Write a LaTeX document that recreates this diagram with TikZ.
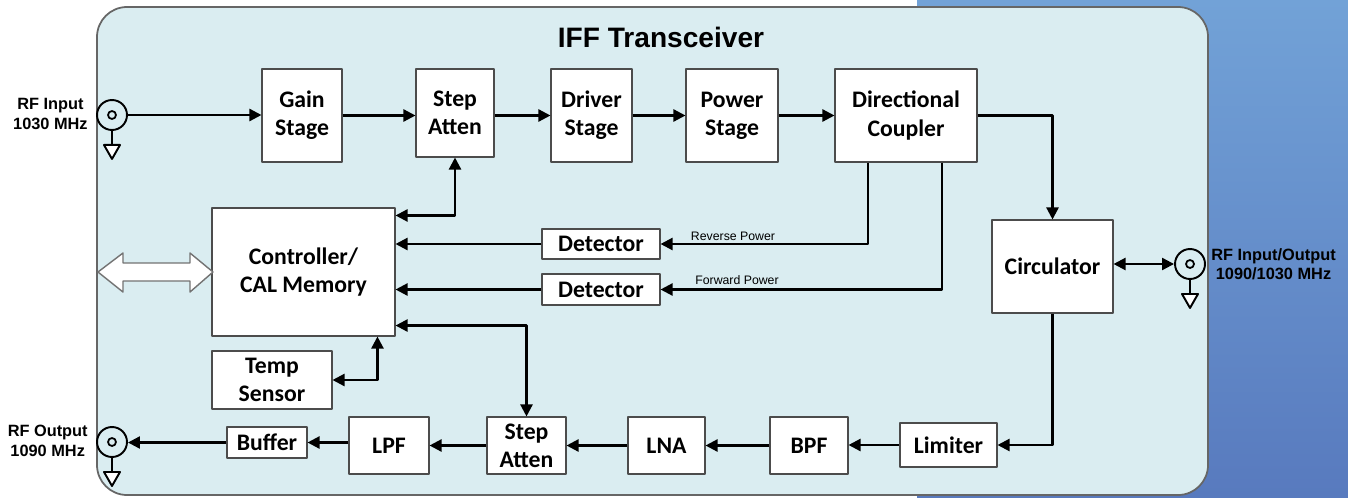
\documentclass[tikz,border=0pt]{standalone}
\usepackage{fontspec}
\setmainfont{Carlito}
\newfontfamily\arialfont{Liberation Sans}
\usetikzlibrary{arrows.meta,calc}
\definecolor{panelfill}{RGB}{218,237,241}
\definecolor{bluetop}{RGB}{114,162,215}
\definecolor{bluebot}{RGB}{88,122,190}
\begin{document}
\begin{tikzpicture}[x=0.02cm,y=-0.02cm,line join=round,>={Triangle[length=2.4mm,width=2.4mm]},
	blk/.style={draw=black!70,fill=white,line width=0.6pt,inner sep=0pt,align=center,font=\bfseries\fontsize{13.5}{16}\selectfont},
	sz/.style 2 args={minimum width=#1*0.02cm,minimum height=#2*0.02cm},
	wire/.style={line width=1.3pt},
	port/.style={circle,draw,line width=1.1pt,inner sep=0pt,minimum size=0.6cm,path picture={\draw[line width=1pt] (path picture bounding box.center) circle (0.08cm);}},
	lbl/.style={font=\arialfont\bfseries\fontsize{9.3}{11}\selectfont,align=center,inner sep=0pt},
	tag/.style={font=\arialfont\fontsize{7}{8}\selectfont,inner sep=0pt}]
	\useasboundingbox (0,0) rectangle (1348,497);
	% background and panel
	\shade[top color=bluetop,bottom color=bluebot] (917,0) rectangle (1348,497);
	\draw[draw=black!60,line width=1pt,fill=panelfill,rounded corners=0.6cm] (97,7) rectangle (1208,495);
	\node[font=\arialfont\bfseries\fontsize{16}{18}\selectfont] (title) at (661,37) {IFF Transceiver};
	% blocks
	\node[blk,sz={80}{93}] (gain) at (302,115.5) {Gain\\Stage};
	\node[blk,sz={78}{88}] (att1) at (455,113) {Step\\Atten};
	\node[blk,sz={81}{93}] (drv) at (591.5,115.5) {Driver\\Stage};
	\node[blk,sz={92}{93}] (pwr) at (732,115.5) {Power\\Stage};
	\node[blk,sz={142}{93}] (cpl) at (906,115.5) {Directional\\Coupler};
	\node[blk,sz={121}{93}] (circ) at (1052.5,266.5) {Circulator};
	\node[blk,sz={183}{128}] (ctrl) at (303.5,272) {Controller/\\CAL Memory};
	\node[blk,sz={118}{30}] (det1) at (601,244) {Detector};
	\node[blk,sz={118}{31}] (det2) at (601,289.5) {Detector};
	\node[blk,sz={120}{58}] (temp) at (272,380) {Temp\\Sensor};
	\node[blk,sz={80}{31}] (buf) at (267,442.5) {Buffer};
	\node[blk,sz={80}{57}] (lpf) at (389,445.5) {LPF};
	\node[blk,sz={79}{57}] (att2) at (526.5,445.5) {Step\\Atten};
	\node[blk,sz={77}{57}] (lna) at (666.5,445.5) {LNA};
	\node[blk,sz={78}{57}] (bpf) at (809,445.5) {BPF};
	\node[blk,sz={97}{44}] (lim) at (948.5,445) {Limiter};
	% ports
	\node[port] (pin) at (112,115) {};
	\node[port] (pio) at (1190,264) {};
	\node[port] (pout) at (112,442) {};
	\foreach \p in {pin,pio,pout}{
		\draw[line width=1.1pt] (\p.south) -- ++(0,14) coordinate (g\p);
		\draw[line width=1.1pt,fill=white] (g\p) ++(-8,0) -- ++(16,0) -- ++(-8,14) -- cycle;
	}
	\node[lbl,anchor=east] (pinlbl) at (88,114) {RF Input\\1030 MHz};
	\node[lbl,anchor=west] (piolbl) at (1211,264) {RF Input/Output\\1090/1030 MHz};
	\node[lbl,anchor=east] (poutlbl) at (88,441) {RF Output\\1090 MHz};
	% bus arrow
	\draw[draw=black!55,line width=0.8pt,fill=white] (98,272) -- (123,253) -- (123,263) -- (190,263) -- (190,253) -- (213,272)
		-- (190,292) -- (190,281) -- (123,281) -- (123,292) -- cycle;
	% transmit chain
	\draw[wire,->] (pin.east) -- (pin.east -| gain.west);
	\draw[wire,->] (gain.east) -- (gain.east -| att1.west);
	\draw[wire,->] (att1.east |- gain.east) -- (drv.west);
	\draw[wire,->] (drv.east) -- (pwr.west);
	\draw[wire,->] (pwr.east) -- (cpl.west);
	\draw[wire,->] (cpl.east) -| (circ.north);
	\draw[wire,<->] (circ.east |- pio.west) -- (pio.west);
	% receive chain
	\draw[wire,->] (circ.south) |- (lim.east);
	\draw[wire,->] (lim.west) -- (lim.west -| bpf.east);
	\draw[wire,->] (bpf.west) -- (lna.east);
	\draw[wire,->] (lna.west) -- (att2.east);
	\draw[wire,->] (att2.west) -- (lpf.east);
	\draw[wire,->] (lpf.west |- buf.east) -- (buf.east);
	\draw[wire,->] (buf.west) -- (buf.west -| pout.east);
	% detectors
	\draw[wire,->] ($(cpl.south)+(-38,0)$) |- (det1.east);
	\draw[wire,->] ($(cpl.south)+(36,0)$) |- (det2.east);
	\node[tag] (rev) at (733,236) {Reverse Power};
	\node[tag] (fwd) at (737,280) {Forward Power};
	\draw[wire,->] (det1.west) -- (det1.west -| ctrl.east);
	\draw[wire,->] (det2.west) -- (det2.west -| ctrl.east);
	% control lines
	\draw[wire,<->] ($(ctrl.north east)+(0,8)$) -| (att1.south);
	\draw[wire,<->] ($(ctrl.south east)+(0,-11)$) -| (att2.north);
	\draw[wire,<->] ($(ctrl.south west)+(166,0)$) |- (temp.east);
\end{tikzpicture}
\end{document}
